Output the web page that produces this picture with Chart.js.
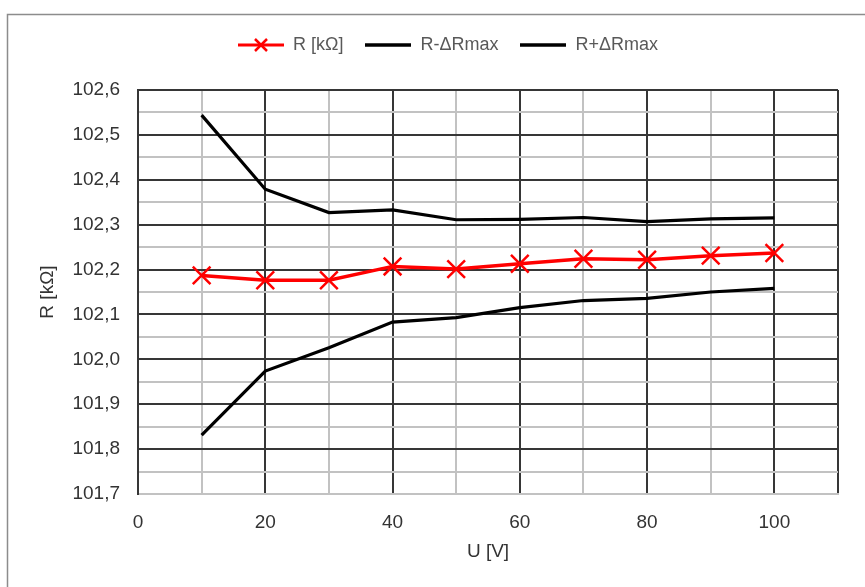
<!DOCTYPE html>
<html>
<head>
<meta charset="utf-8">
<script src="https://cdn.jsdelivr.net/npm/chart.js@4/dist/chart.umd.min.js"></script>
<style>
  html, body { margin: 0; padding: 0; background: #ffffff; }
  #wrap { width: 865px; height: 587px; }
</style>
</head>
<body>
<div id="wrap"><canvas id="chart" width="865" height="587"></canvas></div>
<script>
// Measurement data: voltage [V] and resistance [kΩ]
const voltages   = [10, 20, 30, 40, 50, 60, 70, 80, 90, 100];
const resistance = [102.187, 102.176, 102.176, 102.207, 102.201, 102.213, 102.224, 102.222, 102.231, 102.237];
const rMinus     = [101.831, 101.974, 102.026, 102.083, 102.093, 102.115, 102.131, 102.136, 102.150, 102.158];
const rPlus      = [102.544, 102.379, 102.327, 102.333, 102.311, 102.312, 102.316, 102.307, 102.313, 102.315];
const seriesNames = ['R [kΩ]', 'R-ΔRmax', 'R+ΔRmax'];

// Axis ranges
const X_MIN = 0, X_MAX = 110, X_STEP = 10, X_LABEL_STEP = 20, X_LABEL_MAX = 100;
const Y_MIN = 101.7, Y_MAX = 102.6, Y_STEP = 0.05;

const FONT = "'Liberation Sans', Arial, sans-serif";
const DARK_GRID = '#363636';
const LIGHT_GRID = '#c2c2c2';
const RED = '#ff0000';

const toPoints = (xs, ys) => xs.map((x, i) => ({ x: x, y: ys[i] }));

// Legend sample icons (line with marker / plain line)
function makeIcon(w, h, draw) {
  const c = document.createElement('canvas');
  c.width = w; c.height = h;
  draw(c.getContext('2d'), w, h);
  return c;
}
const redIcon = makeIcon(46, 18, (g, w, h) => {
  g.strokeStyle = RED;
  g.lineWidth = 3;
  g.beginPath(); g.moveTo(0, h / 2); g.lineTo(w, h / 2); g.stroke();
  const r = 6;
  g.lineWidth = 2.5;
  g.beginPath();
  g.moveTo(w / 2 - r, h / 2 - r); g.lineTo(w / 2 + r, h / 2 + r);
  g.moveTo(w / 2 + r, h / 2 - r); g.lineTo(w / 2 - r, h / 2 + r);
  g.stroke();
});
const blackIcon = makeIcon(46, 8, (g, w, h) => {
  g.strokeStyle = '#000000';
  g.lineWidth = 3.5;
  g.beginPath(); g.moveTo(0, h / 2); g.lineTo(w, h / 2); g.stroke();
});
const legendIcons = [redIcon, blackIcon, blackIcon];

// Extra room under the legend, legend offset and the outer frame
const LEGEND_GAP = 26;
const LEGEND_SHIFT = 29;
const chartDecor = {
  id: 'chartDecor',
  beforeLayout(chart) {
    const lg = chart.legend;
    if (lg && !lg._gapPatched) {
      const baseFit = lg.fit;
      lg.fit = function () { baseFit.call(this); this.height += LEGEND_GAP; };
      lg._gapPatched = true;
    }
  },
  afterLayout(chart) {
    const lg = chart.legend;
    if (lg) { lg.left += LEGEND_SHIFT; lg.right += LEGEND_SHIFT; }
  },
  beforeDraw(chart) {
    const g = chart.ctx;
    g.save();
    g.strokeStyle = '#8c8c8c';
    g.lineWidth = 1.5;
    g.strokeRect(7.5, 14.5, 1000, 1000);
    g.restore();
  }
};

new Chart(document.getElementById('chart'), {
  type: 'line',
  data: {
    datasets: [
      {
        label: seriesNames[0],
        data: toPoints(voltages, resistance),
        borderColor: RED,
        backgroundColor: RED,
        borderWidth: 3.5,
        pointStyle: 'crossRot',
        pointRadius: 12.5,
        pointBorderWidth: 2.5,
        pointBorderColor: RED,
        tension: 0
      },
      {
        label: seriesNames[1],
        data: toPoints(voltages, rMinus),
        borderColor: '#000000',
        backgroundColor: '#000000',
        borderWidth: 3.2,
        pointRadius: 0,
        tension: 0
      },
      {
        label: seriesNames[2],
        data: toPoints(voltages, rPlus),
        borderColor: '#000000',
        backgroundColor: '#000000',
        borderWidth: 3.2,
        pointRadius: 0,
        tension: 0
      }
    ]
  },
  options: {
    responsive: false,
    animation: false,
    devicePixelRatio: 1,
    events: [],
    layout: { padding: { left: 0, right: 27, top: 14, bottom: 0 } },
    plugins: {
      tooltip: { enabled: false },
      legend: {
        display: true,
        position: 'top',
        labels: {
          usePointStyle: true,
          pointStyleWidth: 46,
          padding: 22,
          color: '#595959',
          font: { family: FONT, size: 18 },
          generateLabels(chart) {
            const items = Chart.defaults.plugins.legend.labels.generateLabels(chart);
            items.forEach((it, i) => { it.pointStyle = legendIcons[i]; });
            return items;
          }
        }
      }
    },
    scales: {
      x: {
        type: 'linear',
        min: X_MIN,
        max: X_MAX,
        ticks: {
          stepSize: X_STEP,
          autoSkip: false,
          maxRotation: 0,
          padding: 17,
          color: '#333333',
          font: { family: FONT, size: 19 },
          callback: v => (v % X_LABEL_STEP === 0 && v <= X_LABEL_MAX) ? String(v) : ''
        },
        grid: {
          drawTicks: false,
          lineWidth: 2,
          color: ctx => (ctx.tick && Math.round(ctx.tick.value) % X_LABEL_STEP === 0) || (ctx.tick && ctx.tick.value === X_MAX) ? DARK_GRID : LIGHT_GRID
        },
        border: { color: LIGHT_GRID, width: 2 },
        title: {
          display: true,
          text: 'U [V]',
          color: '#333333',
          font: { family: FONT, size: 19 },
          padding: { top: 0, bottom: 24 }
        },
        afterFit(scale) { scale.height = 93; }
      },
      y: {
        type: 'linear',
        min: Y_MIN,
        max: Y_MAX,
        ticks: {
          stepSize: Y_STEP,
          autoSkip: false,
          padding: 18,
          color: '#333333',
          font: { family: FONT, size: 19 },
          callback: v => {
            const i = Math.round((v - Y_MIN) / Y_STEP);
            return i % 2 === 0 ? v.toFixed(1).replace('.', ',') : '';
          }
        },
        grid: {
          drawTicks: false,
          lineWidth: 2,
          color: ctx => {
            if (!ctx.tick) return LIGHT_GRID;
            const i = Math.round((ctx.tick.value - Y_MIN) / Y_STEP);
            return (i > 0 && i % 2 === 0) ? DARK_GRID : LIGHT_GRID;
          }
        },
        border: { color: DARK_GRID, width: 2 },
        title: {
          display: true,
          text: 'R [kΩ]',
          color: '#333333',
          font: { family: FONT, size: 19 },
          padding: { top: 36, bottom: 0 }
        },
        afterFit(scale) { scale.width = 138; }
      }
    }
  },
  plugins: [chartDecor]
});
</script>
</body>
</html>
